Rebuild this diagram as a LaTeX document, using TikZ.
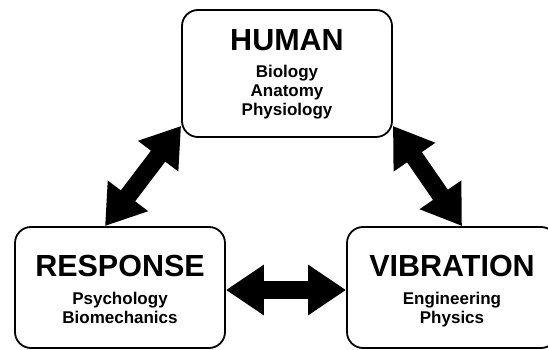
\documentclass[tikz,border=0pt]{standalone}
\usepackage{fontspec}
\setmainfont{Liberation Sans}
\usetikzlibrary{arrows.meta}
\newcommand\mytitlefont{\fontsize{30.5}{32}\selectfont\bfseries}
\newcommand\mysubfont{\fontsize{17}{19}\selectfont\bfseries}
\begin{document}
\begin{tikzpicture}[x=1pt,y=-1pt,
  box/.style={draw=black, line width=1.8pt, rounded corners=16pt,
    minimum width=210pt, align=center, inner sep=0pt, font=\mysubfont},
  dblarrow/.style={line width=18pt,
    {Triangle[length=38pt,width=48pt]}-{Triangle[length=38pt,width=48pt]}}]
\clip (0,0) rectangle (548,350);
\node[box, minimum height=127pt] (human) at (287,73.5)
  {\rule{0pt}{24pt}{\mytitlefont HUMAN}\\[8pt]Biology\\Anatomy\\Physiology\rule[-5pt]{0pt}{5pt}};
\node[box, minimum height=121pt] (response) at (120,287.5)
  {\rule{0pt}{30pt}{\mytitlefont RESPONSE}\\[9pt]Psychology\\Biomechanics\rule[-5pt]{0pt}{5pt}};
\node[box, minimum height=121pt] (vibration) at (452,287.5)
  {\rule{0pt}{30pt}{\mytitlefont VIBRATION}\\[9pt]Engineering\\Physics\rule[-5pt]{0pt}{5pt}};
\coordinate (hl) at ([yshift=12pt]human.south west);
\coordinate (hr) at ([yshift=12pt]human.south east);
\coordinate (rt) at ([xshift=-15pt]response.north);
\coordinate (vt) at ([xshift=10pt]vibration.north);
\coordinate (re) at ([yshift=-2.5pt]response.east);
\coordinate (ve) at ([yshift=-2.5pt]vibration.west);
\draw[dblarrow] (rt) -- (hl);
\draw[dblarrow] (hr) -- (vt);
\draw[dblarrow] (re) -- (ve);
\end{tikzpicture}
\end{document}
